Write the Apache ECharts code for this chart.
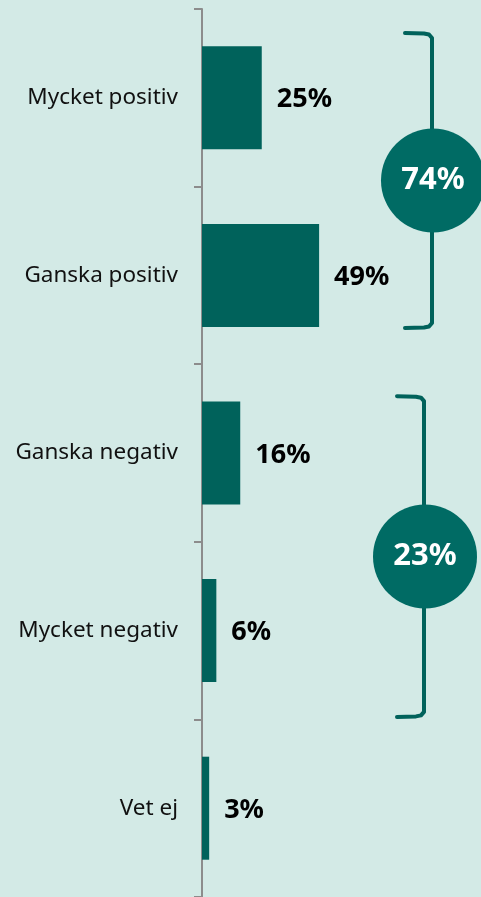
<!DOCTYPE html>
<html>
<head>
<meta charset="utf-8">
<script src="https://cdn.jsdelivr.net/npm/echarts@6/dist/echarts.min.js"></script>
<style>
  html, body { margin: 0; padding: 0; background: #d3eae6; }
  #chart { width: 481px; height: 897px; }
</style>
</head>
<body>
<div id="chart"></div>
<script>
// data
var categories = ["Mycket positiv", "Ganska positiv", "Ganska negativ", "Mycket negativ", "Vet ej"];
var values = [25, 49, 16, 6, 3];
var groupLabels = ["74%", "23%"];
var groupFirst = [0, 2];
var groupLast = [1, 3];

// bracket layout (px / band units)
var bracketX = [432, 424];
var bracketTop = [-0.365, -0.32];
var bracketBottom = [0.296, 0.486];

var teal = "#00625b";

var chart = echarts.init(document.getElementById("chart"));
var option = {
  backgroundColor: "#d3eae6",
  animation: false,
  grid: { left: 202, right: 40, top: 9, bottom: 0, containLabel: false },
  xAxis: {
    type: "value",
    min: 0,
    max: 100,
    show: false
  },
  yAxis: {
    type: "category",
    inverse: true,
    data: categories,
    axisLine: { show: true, lineStyle: { color: "#8c8c8c", width: 2 } },
    axisTick: { show: true, length: 8, lineStyle: { color: "#8c8c8c", width: 2 } },
    axisLabel: {
      margin: 24,
      fontFamily: "Noto Sans",
      fontSize: 22.5,
      color: "#111"
    }
  },
  series: [{
    type: "bar",
    data: values,
    barCategoryGap: "42%",
    itemStyle: { color: teal },
    label: {
      show: true,
      position: "right",
      distance: 15,
      offset: [0, 2],
      formatter: "{c}%",
      fontFamily: "Noto Sans",
      fontWeight: "bold",
      fontSize: 27,
      color: "#000"
    }
  }]
};
chart.setOption(option);

function drawBrackets() {
  var els = [];
  var p0 = chart.convertToPixel({ yAxisIndex: 0 }, 0);
  var p1 = chart.convertToPixel({ yAxisIndex: 0 }, 1);
  var band = p1 - p0;
  for (var i = 0; i < groupLabels.length; i++) {
    var x = bracketX[i];
    var top = chart.convertToPixel({ yAxisIndex: 0 }, groupFirst[i]) + bracketTop[i] * band;
    var bottom = chart.convertToPixel({ yAxisIndex: 0 }, groupLast[i]) + bracketBottom[i] * band;
    var mid = (top + bottom) / 2;
    els.push({
      type: "polyline",
      shape: {
        points: [[x - 27, top], [x - 8, top + 0.5], [x - 3, top + 1.5], [x, top + 5], [x, bottom - 5],
                 [x - 3, bottom - 1.5], [x - 8, bottom - 0.5], [x - 27, bottom]],
        smooth: 0
      },
      style: { stroke: teal, lineWidth: 4, fill: null, lineJoin: "round", lineCap: "round" },
      z: 10
    });
    els.push({
      type: "circle",
      shape: { cx: x + 1, cy: mid, r: 52 },
      style: { fill: "#006b64" },
      z: 11
    });
    els.push({
      type: "text",
      x: x + 1,
      y: mid,
      style: {
        text: groupLabels[i],
        fill: "#fff",
        font: "bold 31px 'Noto Sans'",
        align: "center",
        verticalAlign: "middle"
      },
      z: 12
    });
  }
  chart.setOption({ graphic: els });
}
drawBrackets();
window.addEventListener("resize", function () {
  chart.resize();
  drawBrackets();
});
</script>
</body>
</html>
